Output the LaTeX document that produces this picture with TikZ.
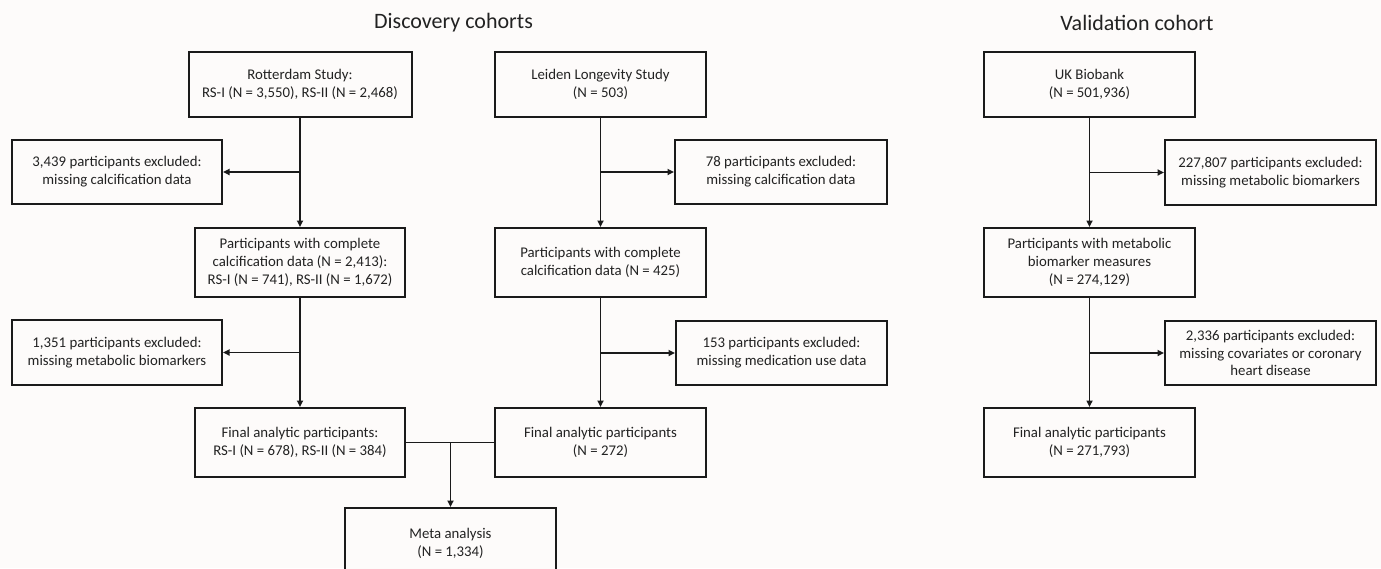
\documentclass[tikz,border=0pt]{standalone}
\usepackage{fontspec}
\setmainfont{Carlito}
\usetikzlibrary{arrows.meta}
\definecolor{bg}{HTML}{FDFBFA}
\definecolor{ln}{HTML}{1A1A1A}
\definecolor{tx}{HTML}{222222}
\tikzset{
  box/.style={draw=ln, line width=2pt, fill=bg, align=center, text=tx,
    font=\fontsize{14.8}{17.8}\selectfont, inner sep=0pt, minimum width=#1},
  box/.default=211pt,
  conn/.style={draw=ln, line width=1.9pt},
  arr/.style={conn, -{Triangle[length=6.5pt,width=6pt]}},
  ttl/.style={text=tx, font=\fontsize{22}{24}\selectfont, inner sep=0pt}
}
\begin{document}
\begin{tikzpicture}[x=1pt,y=-1pt]
\fill[bg] (0,0) rectangle (1381,568);
\useasboundingbox (0,0) rectangle (1381,568);
\begin{scope}
\clip (0,0) rectangle (1381,568);
% titles
\node[ttl] (t1) at (453.5,23) {Discovery cohorts};
\node[ttl] (t2) at (1137,23) {Validation cohort};
% Rotterdam column
\node[box=223pt, minimum height=65pt] (rs) at (300,84.5) {Rotterdam Study:\\RS-I (N = 3,550), RS-II (N = 2,468)};
\node[box=210pt, minimum height=64pt] (rsx1) at (117,172) {3,439 participants excluded:\\missing calcification data};
\node[box=210pt, minimum height=69pt] (rs2) at (300,262.5) {Participants with complete\\calcification data (N = 2,413):\\RS-I (N = 741), RS-II (N = 1,672)};
\node[box=210pt, minimum height=65pt] (rsx2) at (117,352.5) {1,351 participants excluded:\\missing metabolic biomarkers};
\node[box=210pt, minimum height=69pt] (rsf) at (300,442.5) {Final analytic participants:\\RS-I (N = 678), RS-II (N = 384)};
% Leiden column
\node[box, minimum height=65pt] (ll) at (600.5,84.5) {Leiden Longevity Study\\(N = 503)};
\node[box=212pt, minimum height=64pt] (llx1) at (781,172) {78 participants excluded:\\missing calcification data};
\node[box, minimum height=69pt] (ll2) at (600.5,262.5) {Participants with complete\\calcification data (N = 425)};
\node[box, minimum height=64pt] (llx2) at (781.5,353) {153 participants excluded:\\missing medication use data};
\node[box, minimum height=69pt] (llf) at (600.5,442.5) {Final analytic participants\\(N = 272)};
% meta
\node[box, minimum height=70pt, anchor=north] (meta) at (450.5,507) {Meta analysis\\(N = 1,334)};
% UK Biobank column
\node[box, minimum height=65pt] (uk) at (1089.5,84.5) {UK Biobank\\(N = 501,936)};
\node[box, minimum height=65pt] (ukx1) at (1270.5,172.5) {227,807 participants excluded:\\missing metabolic biomarkers};
\node[box, minimum height=69pt] (uk2) at (1089.5,262.5) {Participants with metabolic\\biomarker measures\\(N = 274,129)};
\node[box, minimum height=64pt] (ukx2) at (1270.5,353) {2,336 participants excluded:\\missing covariates or coronary\\heart disease};
\node[box, minimum height=69pt] (ukf) at (1089.5,442.5) {Final analytic participants\\(N = 271,793)};
% connectors
\draw[arr] (rs.south) -- (rs2.north);
\draw[arr] (rs.south |- rsx1.east) -- (rsx1.east);
\draw[arr] (rs2.south) -- (rsf.north);
\draw[arr] (rs2.south |- rsx2.east) -- (rsx2.east);
\draw[arr] (ll.south) -- (ll2.north);
\draw[arr] (ll.south |- llx1.west) -- (llx1.west);
\draw[arr] (ll2.south) -- (llf.north);
\draw[arr] (ll2.south |- llx2.west) -- (llx2.west);
\draw[conn] (rsf.east) -- (llf.west);
\draw[arr] (meta.north |- rsf.east) -- (meta.north);
\draw[arr] (uk.south) -- (uk2.north);
\draw[arr] (uk.south |- ukx1.west) -- (ukx1.west);
\draw[arr] (uk2.south) -- (ukf.north);
\draw[arr] (uk2.south |- ukx2.west) -- (ukx2.west);
\end{scope}
\end{tikzpicture}
\end{document}
